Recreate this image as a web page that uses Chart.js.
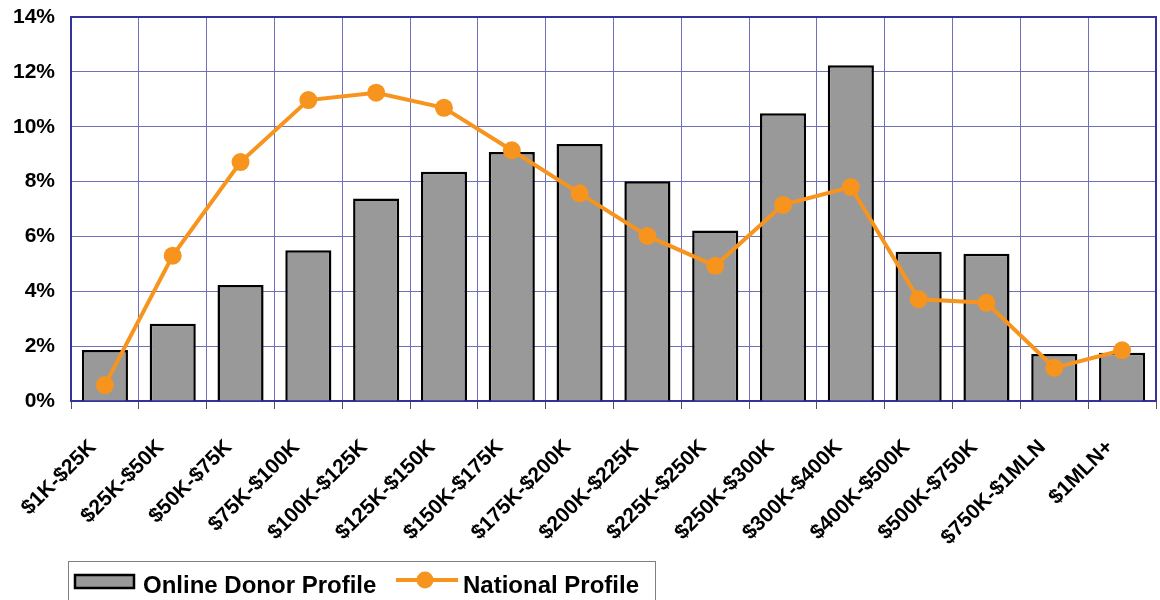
<!DOCTYPE html>
<html>
<head>
<meta charset="utf-8">
<script src="https://cdn.jsdelivr.net/npm/chart.js@4.4.0/dist/chart.umd.min.js"></script>
<style>
  html, body { margin: 0; padding: 0; background: #fff; }
</style>
</head>
<body>
<canvas id="donor-canvas" width="1160" height="600"></canvas>
<script>
// income bands on the x axis
const incomeBands = [
    '$1K-$25K', '$25K-$50K', '$50K-$75K', '$75K-$100K', '$100K-$125K',
    '$125K-$150K', '$150K-$175K', '$175K-$200K', '$200K-$225K', '$225K-$250K',
    '$250K-$300K', '$300K-$400K', '$400K-$500K', '$500K-$750K', '$750K-$1MLN', '$1MLN+'
];
// share of donors, percent
const onlineDonor = [1.86, 2.82, 4.23, 5.5, 7.38, 8.36, 9.08, 9.37, 8.01, 6.22, 10.49, 12.24, 5.44, 5.37, 1.71, 1.76];
const nationalProfile = [0.58, 5.3, 8.71, 10.97, 11.24, 10.69, 9.14, 7.57, 6.02, 4.93, 7.15, 7.8, 3.71, 3.58, 1.21, 1.85];
const yMin = 0;
const yMax = 14;
const yStep = 2;

const legendNames = ['Online Donor Profile', 'National Profile'];

const ORANGE = '#f7941e';
const GRID = '#7070b8';
const FRAME = '#333399';
const FONT = '"Liberation Sans", Arial, sans-serif';

// box round the plot area (top and right sides too)
const plotFrame = {
    id: 'plotFrame',
    beforeDatasetsDraw(chart) {
        const { ctx, chartArea: a } = chart;
        ctx.save();
        ctx.strokeStyle = FRAME;
        ctx.lineWidth = 2;
        ctx.strokeRect(a.left, a.top, a.right - a.left, a.bottom - a.top);
        ctx.restore();
    }
};

// legend drawn by hand, bottom left with a frame
const legendBox = {
    id: 'legendBox',
    afterDraw(chart) {
        const ctx = chart.ctx;
        ctx.save();
        ctx.strokeStyle = '#808080';
        ctx.lineWidth = 1;
        ctx.strokeRect(68.5, 561.5, 587, 44);

        ctx.fillStyle = '#999999';
        ctx.fillRect(75, 575, 59, 13);
        ctx.strokeStyle = '#000';
        ctx.lineWidth = 2.5;
        ctx.strokeRect(75, 575, 59, 13);

        ctx.fillStyle = '#000';
        ctx.font = 'bold 24px ' + FONT;
        ctx.textBaseline = 'alphabetic';
        ctx.fillText(legendNames[0], 143, 593);

        ctx.strokeStyle = ORANGE;
        ctx.lineWidth = 4;
        ctx.beginPath();
        ctx.moveTo(396, 580);
        ctx.lineTo(458, 580);
        ctx.stroke();
        ctx.fillStyle = ORANGE;
        ctx.beginPath();
        ctx.arc(425, 580, 8.5, 0, Math.PI * 2);
        ctx.fill();

        ctx.fillStyle = '#000';
        ctx.fillText(legendNames[1], 463, 593);
        ctx.restore();
    }
};

new Chart(document.getElementById('donor-canvas'), {
    type: 'bar',
    data: {
        labels: incomeBands,
        datasets: [
            {
                type: 'line',
                label: legendNames[1],
                data: nationalProfile,
                borderColor: ORANGE,
                backgroundColor: ORANGE,
                borderWidth: 4,
                pointRadius: 9,
                pointBorderWidth: 0,
                pointBackgroundColor: ORANGE,
                tension: 0,
                order: 0
            },
            {
                label: legendNames[0],
                data: onlineDonor,
                backgroundColor: '#999999',
                borderColor: '#000000',
                borderWidth: 2.5,
                barPercentage: 0.68,
                categoryPercentage: 1.0,
                order: 1
            }
        ]
    },
    options: {
        responsive: false,
        animation: false,
        devicePixelRatio: 1,
        layout: { autoPadding: false, padding: { top: 17, right: 4, left: 0, bottom: 0 } },
        plugins: {
            legend: { display: false },
            tooltip: { enabled: false }
        },
        scales: {
            x: {
                offset: true,
                grid: {
                    offset: true,
                    color: GRID,
                    lineWidth: 1,
                    drawTicks: true,
                    tickLength: 8,
                    tickColor: '#555'
                },
                border: { color: FRAME, width: 2 },
                ticks: {
                    color: '#000',
                    font: { family: FONT, size: 21, weight: 'bold' },
                    minRotation: 45,
                    maxRotation: 45,
                    autoSkip: false,
                    labelOffset: -12,
                    padding: 26
                },
                afterFit(scale) {
                    scale.height = 199;
                    scale.paddingLeft = 0;
                    scale.paddingRight = 0;
                }
            },
            y: {
                min: yMin,
                max: yMax,
                grid: { color: GRID, lineWidth: 1, drawTicks: false },
                border: { color: FRAME, width: 2 },
                ticks: {
                    stepSize: yStep,
                    color: '#000',
                    padding: 16,
                    font: { family: FONT, size: 21, weight: 'bold' },
                    callback: v => v + '%'
                },
                afterFit(scale) {
                    scale.width = 71;
                    scale.paddingTop = 0;
                    scale.paddingBottom = 0;
                }
            }
        }
    },
    plugins: [plotFrame, legendBox]
});
</script>
</body>
</html>
